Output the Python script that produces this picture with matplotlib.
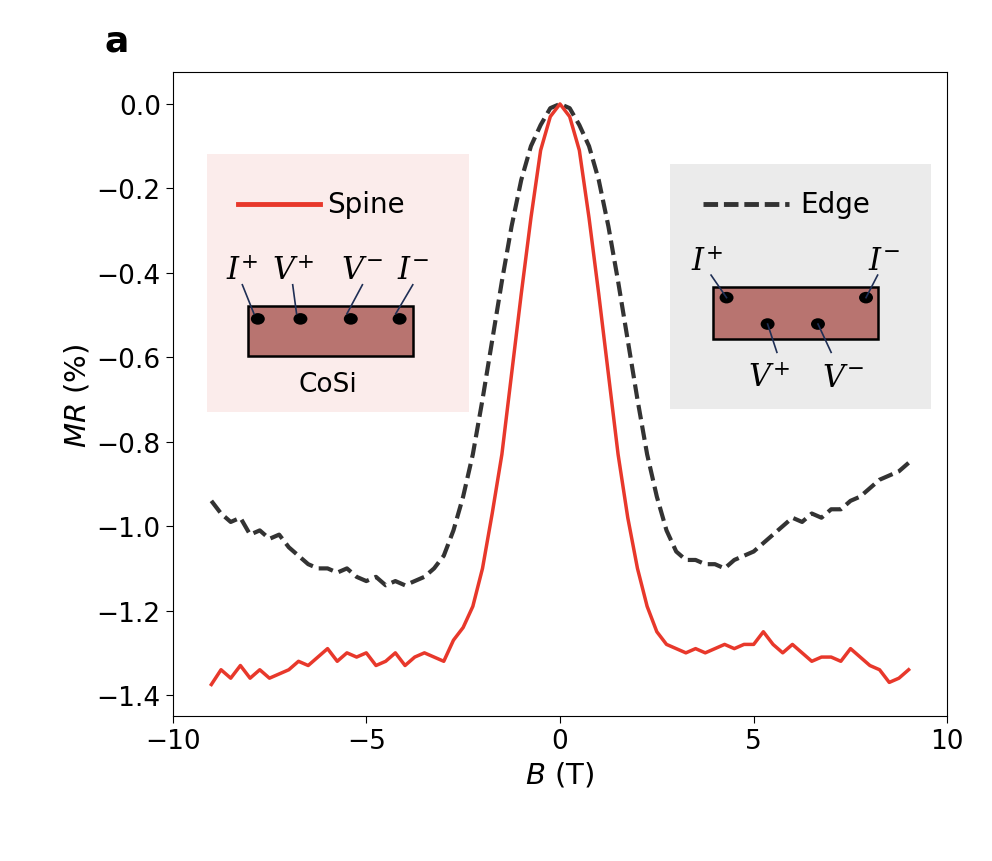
import matplotlib
matplotlib.use("Agg")
import matplotlib.pyplot as plt
from matplotlib.patches import Rectangle, Circle

# values
b_spine = [-9, -8.75, -8.5, -8.25, -8, -7.75, -7.5, -7.25, -7, -6.75, -6.5, -6.25, -6, -5.75, -5.5,
           -5.25, -5, -4.75, -4.5, -4.25, -4, -3.75, -3.5, -3.25, -3, -2.75, -2.5, -2.25, -2, -1.75,
           -1.5, -1.25, -1, -0.75, -0.5, -0.25, 0, 0.25, 0.5, 0.75, 1, 1.25, 1.5, 1.75, 2, 2.25,
           2.5, 2.75, 3, 3.25, 3.5, 3.75, 4, 4.25, 4.5, 4.75, 5, 5.25, 5.5, 5.75, 6, 6.25, 6.5,
           6.75, 7, 7.25, 7.5, 7.75, 8, 8.25, 8.5, 8.75, 9]
mr_spine = [-1.375, -1.34, -1.36, -1.33, -1.36, -1.34, -1.36, -1.35, -1.34, -1.32, -1.33, -1.31,
            -1.29, -1.32, -1.30, -1.31, -1.30, -1.33, -1.32, -1.30, -1.33, -1.31, -1.30, -1.31,
            -1.32, -1.27, -1.24, -1.19, -1.10, -0.97, -0.83, -0.64, -0.45, -0.27, -0.11, -0.03,
            0.0, -0.03, -0.11, -0.27, -0.45, -0.64, -0.83, -0.98, -1.10, -1.19, -1.25, -1.28,
            -1.29, -1.30, -1.29, -1.30, -1.29, -1.28, -1.29, -1.28, -1.28, -1.25, -1.28, -1.30,
            -1.28, -1.30, -1.32, -1.31, -1.31, -1.32, -1.29, -1.31, -1.33, -1.34, -1.37, -1.36,
            -1.34]
b_edge = b_spine
mr_edge = [-0.94, -0.97, -0.99, -0.98, -1.02, -1.01, -1.03, -1.02, -1.05, -1.07, -1.09, -1.10,
           -1.10, -1.11, -1.10, -1.12, -1.13, -1.12, -1.14, -1.13, -1.14, -1.13, -1.12, -1.10,
           -1.07, -1.01, -0.93, -0.83, -0.70, -0.56, -0.42, -0.29, -0.18, -0.10, -0.05, -0.01,
           0.0, -0.01, -0.05, -0.10, -0.18, -0.29, -0.42, -0.56, -0.70, -0.83, -0.93, -1.01,
           -1.06, -1.08, -1.08, -1.09, -1.09, -1.10, -1.08, -1.07, -1.06, -1.04, -1.02, -1.00,
           -0.98, -0.99, -0.97, -0.98, -0.96, -0.96, -0.94, -0.93, -0.91, -0.89, -0.88, -0.87,
           -0.85]

plt.rcParams['mathtext.fontset'] = 'custom'
plt.rcParams['mathtext.it'] = 'DejaVu Serif:italic'
plt.rcParams['mathtext.rm'] = 'DejaVu Serif'
plt.rcParams['mathtext.sf'] = 'DejaVu Sans:italic'

fig = plt.figure(figsize=(9.92, 8.62), dpi=100)
ax = fig.add_axes([0.174, 0.168, 0.781, 0.747])
ax.plot(b_edge, mr_edge, color="#333333", lw=3, ls=(0, (3.5, 1.5)), zorder=3)
ax.plot(b_spine, mr_spine, color="#e8382b", lw=2.5, zorder=4)
ax.set_xlim(-10, 10)
ax.set_ylim(-1.45, 0.075)
ax.set_xticks([-10, -5, 0, 5, 10])
ax.set_yticks([0, -0.2, -0.4, -0.6, -0.8, -1.0, -1.2, -1.4])
ax.set_yticklabels([f"{v:.1f}".replace("-", "\u2212") for v in ax.get_yticks()])
ax.tick_params(labelsize=19, length=5)
ax.set_xlabel(r"$\mathsf{B}$ (T)", fontsize=21, labelpad=4)
ax.set_ylabel(r"$\mathsf{MR}$ (%)", fontsize=21)
fig.text(0.105, 0.94, "a", fontsize=26, fontweight="bold")

T = ax.transAxes
lead = "#1f2f55"
body = "#b87470"

# Spine inset
ax.add_patch(Rectangle((0.045, 0.472), 0.338, 0.401, transform=T, fc="#fbeceb", ec="none", zorder=1))
ax.plot([0.085, 0.19], [0.795, 0.795], transform=T, color="#e8382b", lw=3.5, zorder=5)
ax.text(0.2, 0.795, "Spine", transform=T, fontsize=20, va="center", zorder=5)
ax.add_patch(Rectangle((0.097, 0.559), 0.213, 0.078, transform=T, fc=body, ec="k", lw=1.8, zorder=6))
for dx, lx, txt in [(0.11, 0.09, "$I^{+}$"), (0.165, 0.155, "$V^{+}$"),
                    (0.23, 0.245, "$V^{-}$"), (0.293, 0.31, "$I^{-}$")]:
    ax.add_patch(Circle((dx, 0.617), 0.009, transform=T, fc="k", zorder=7))
    ax.plot([dx - 0.005, lx], [0.625, 0.67], transform=T, color=lead, lw=1.2, zorder=7)
    ax.text(lx, 0.693, txt, transform=T, fontsize=22, ha="center", va="center", zorder=7)
ax.text(0.2, 0.516, "CoSi", transform=T, fontsize=19, ha="center", va="center", zorder=7)

# Edge inset
ax.add_patch(Rectangle((0.642, 0.477), 0.337, 0.38, transform=T, fc="#ebebeb", ec="none", zorder=1))
ax.plot([0.685, 0.795], [0.795, 0.795], transform=T, color="#333333", lw=3.5,
        ls=(0, (3, 1.2)), zorder=5)
ax.text(0.81, 0.795, "Edge", transform=T, fontsize=20, va="center", zorder=5)
ax.add_patch(Rectangle((0.698, 0.585), 0.213, 0.081, transform=T, fc=body, ec="k", lw=1.8, zorder=6))
for dx, dy, lx, ly, tx, ty, txt in [(0.715, 0.65, 0.695, 0.685, 0.69, 0.707, "$I^{+}$"),
                                    (0.895, 0.65, 0.91, 0.685, 0.918, 0.707, "$I^{-}$"),
                                    (0.768, 0.609, 0.78, 0.565, 0.77, 0.526, "$V^{+}$"),
                                    (0.833, 0.609, 0.85, 0.565, 0.865, 0.526, "$V^{-}$")]:
    ax.add_patch(Circle((dx, dy), 0.009, transform=T, fc="k", zorder=7))
    ax.plot([dx, lx], [dy, ly], transform=T, color=lead, lw=1.2, zorder=7)
    ax.text(tx, ty, txt, transform=T, fontsize=22, ha="center", va="center", zorder=7)

fig.savefig("out.png", dpi=100)
